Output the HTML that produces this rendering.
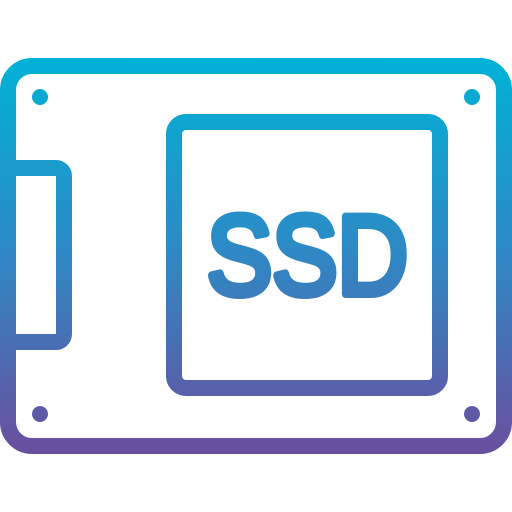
<!DOCTYPE html>
<html><head><style>html,body{margin:0;padding:0;background:#fff}svg{display:block}</style></head>
<body>
<svg width="512" height="512" viewBox="0 0 512 512" xmlns="http://www.w3.org/2000/svg">
<defs>
<linearGradient id="g" gradientUnits="userSpaceOnUse" x1="0" y1="58" x2="0" y2="454">
<stop offset="0" stop-color="#00b2d6"/>
<stop offset="0.5" stop-color="#2f88c4"/>
<stop offset="1" stop-color="#6a4e9e"/>
</linearGradient>
</defs>
<g fill="none" stroke="url(#g)" stroke-width="16" stroke-linejoin="round">
<rect x="8" y="66" width="496" height="380" rx="24"/>
<path d="M8 168 H56 A8 8 0 0 1 64 176 V334 A8 8 0 0 1 56 342 H8"/>
<rect x="174" y="122" width="266" height="266" rx="12"/>
</g>
<g fill="url(#g)">
<circle cx="40" cy="97" r="8"/><circle cx="472" cy="97" r="8"/>
<circle cx="40" cy="414" r="8"/><circle cx="472" cy="414" r="8"/>
<text x="207" y="294" font-family="Liberation Sans, sans-serif" font-weight="normal" font-size="112" textLength="201" lengthAdjust="spacingAndGlyphs" stroke="url(#g)" stroke-width="8" stroke-linejoin="round" stroke-linecap="round">SSD</text>
</g>
</svg>
</body></html>
